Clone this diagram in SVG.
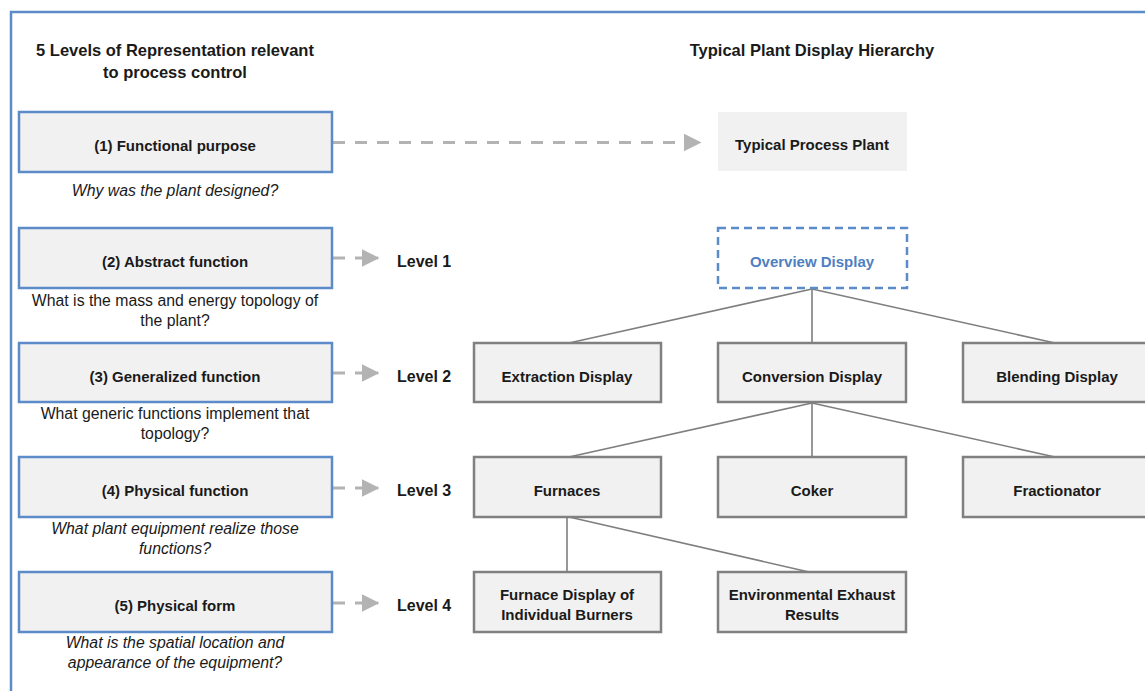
<svg xmlns="http://www.w3.org/2000/svg" width="1145" height="691" viewBox="0 0 1145 691">
  <style>
    text { font-family: "Liberation Sans", Arial, sans-serif; fill: #1a1a1a; text-anchor: middle; }
    .head { font-size: 16.5px; font-weight: bold; }
    .lbl { font-size: 15px; font-weight: bold; }
    .cap { font-size: 15.8px; }
    .it { font-style: italic; }
    .level { font-size: 16px; font-weight: bold; text-anchor: start; }
    .rep { fill: #f1f1f1; stroke: #5b8bc9; stroke-width: 2.5; }
    .disp { fill: #f1f1f1; stroke: #808080; stroke-width: 2.5; }
    .plant { fill: #f1f1f1; }
    .overview { fill: #ffffff; stroke: #5b8bc9; stroke-width: 2.5; stroke-dasharray: 8 5; }
    .tree { stroke: #7f7f7f; stroke-width: 1.6; fill: none; }
    .map { stroke: #b3b3b3; stroke-width: 3; fill: none; stroke-dasharray: 12 10; }
  </style>
  <defs>
    <marker id="tri" markerWidth="6" markerHeight="6" refX="5.5" refY="3" orient="auto" markerUnits="strokeWidth">
      <path d="M0,0 L6,3 L0,6 Z" fill="#b3b3b3"/>
    </marker>
  </defs>

  <rect width="1145" height="691" fill="#ffffff"/>
  <!-- frame -->
  <path d="M11,691 V12 H1145" fill="none" stroke="#5b8bc9" stroke-width="2.5"/>

  <!-- headings -->
  <text class="head" x="175" y="56">5 Levels of Representation relevant</text>
  <text class="head" x="175" y="78">to process control</text>
  <text class="head" x="812" y="56">Typical Plant Display Hierarchy</text>

  <!-- connectors -->
  <g id="connectors">
    <path class="map" d="M333,142.5 H700" marker-end="url(#tri)"/>
    <path class="map" d="M333,258 H378" marker-end="url(#tri)"/>
    <path class="map" d="M333,373 H378" marker-end="url(#tri)"/>
    <path class="map" d="M333,488 H378" marker-end="url(#tri)"/>
    <path class="map" d="M333,603 H378" marker-end="url(#tri)"/>
    <path class="tree" d="M812,289 L569,343 M812,289 V343 M812,289 L1055,343"/>
    <path class="tree" d="M812,403 L569,457 M812,403 V457 M812,403 L1055,457"/>
    <path class="tree" d="M567,517 V572 M569,517 L809,572"/>
  </g>

  <!-- representation levels -->
  <g id="rep1">
    <rect class="rep" x="19" y="112" width="313" height="60"/>
    <text class="lbl" x="175" y="151">(1) Functional purpose</text>
    <text class="cap it" x="175" y="196">Why was the plant designed?</text>
  </g>
  <g id="rep2">
    <rect class="rep" x="19" y="228" width="313" height="60"/>
    <text class="lbl" x="175" y="267">(2) Abstract function</text>
    <text class="cap" x="175" y="306">What is the mass and energy topology of</text>
    <text class="cap" x="175" y="326">the plant?</text>
  </g>
  <g id="rep3">
    <rect class="rep" x="19" y="343" width="313" height="59"/>
    <text class="lbl" x="175" y="382">(3) Generalized function</text>
    <text class="cap" x="175" y="419">What generic functions implement that</text>
    <text class="cap" x="175" y="439">topology?</text>
  </g>
  <g id="rep4">
    <rect class="rep" x="19" y="457" width="313" height="60"/>
    <text class="lbl" x="175" y="496">(4) Physical function</text>
    <text class="cap it" x="175" y="534">What plant equipment realize those</text>
    <text class="cap it" x="175" y="554">functions?</text>
  </g>
  <g id="rep5">
    <rect class="rep" x="19" y="572" width="313" height="60"/>
    <text class="lbl" x="175" y="611">(5) Physical form</text>
    <text class="cap it" x="175" y="648">What is the spatial location and</text>
    <text class="cap it" x="175" y="668">appearance of the equipment?</text>
  </g>

  <!-- level labels -->
  <g id="levels">
    <text class="level" x="397" y="267">Level 1</text>
    <text class="level" x="397" y="382">Level 2</text>
    <text class="level" x="397" y="496">Level 3</text>
    <text class="level" x="397" y="611">Level 4</text>
  </g>

  <!-- display hierarchy -->
  <g id="plant">
    <rect class="plant" x="718" y="112" width="189" height="59"/>
    <text class="lbl" x="812" y="150">Typical Process Plant</text>
  </g>
  <g id="overview">
    <rect class="overview" x="718" y="228" width="189" height="60"/>
    <text class="lbl" x="812" y="267" style="fill:#4f7fc0">Overview Display</text>
  </g>
  <g id="extraction">
    <rect class="disp" x="474" y="343" width="187" height="59"/>
    <text class="lbl" x="567" y="382">Extraction Display</text>
  </g>
  <g id="conversion">
    <rect class="disp" x="718" y="343" width="188" height="59"/>
    <text class="lbl" x="812" y="382">Conversion Display</text>
  </g>
  <g id="blending">
    <rect class="disp" x="963" y="343" width="188" height="59"/>
    <text class="lbl" x="1057" y="382">Blending Display</text>
  </g>
  <g id="furnaces">
    <rect class="disp" x="474" y="457" width="187" height="60"/>
    <text class="lbl" x="567" y="496">Furnaces</text>
  </g>
  <g id="coker">
    <rect class="disp" x="718" y="457" width="188" height="60"/>
    <text class="lbl" x="812" y="496">Coker</text>
  </g>
  <g id="fractionator">
    <rect class="disp" x="963" y="457" width="188" height="60"/>
    <text class="lbl" x="1057" y="496">Fractionator</text>
  </g>
  <g id="burners">
    <rect class="disp" x="474" y="572" width="187" height="60"/>
    <text class="lbl" x="567" y="600">Furnace Display of</text>
    <text class="lbl" x="567" y="620">Individual Burners</text>
  </g>
  <g id="exhaust">
    <rect class="disp" x="718" y="572" width="188" height="60"/>
    <text class="lbl" x="812" y="600">Environmental Exhaust</text>
    <text class="lbl" x="812" y="620">Results</text>
  </g>
</svg>
